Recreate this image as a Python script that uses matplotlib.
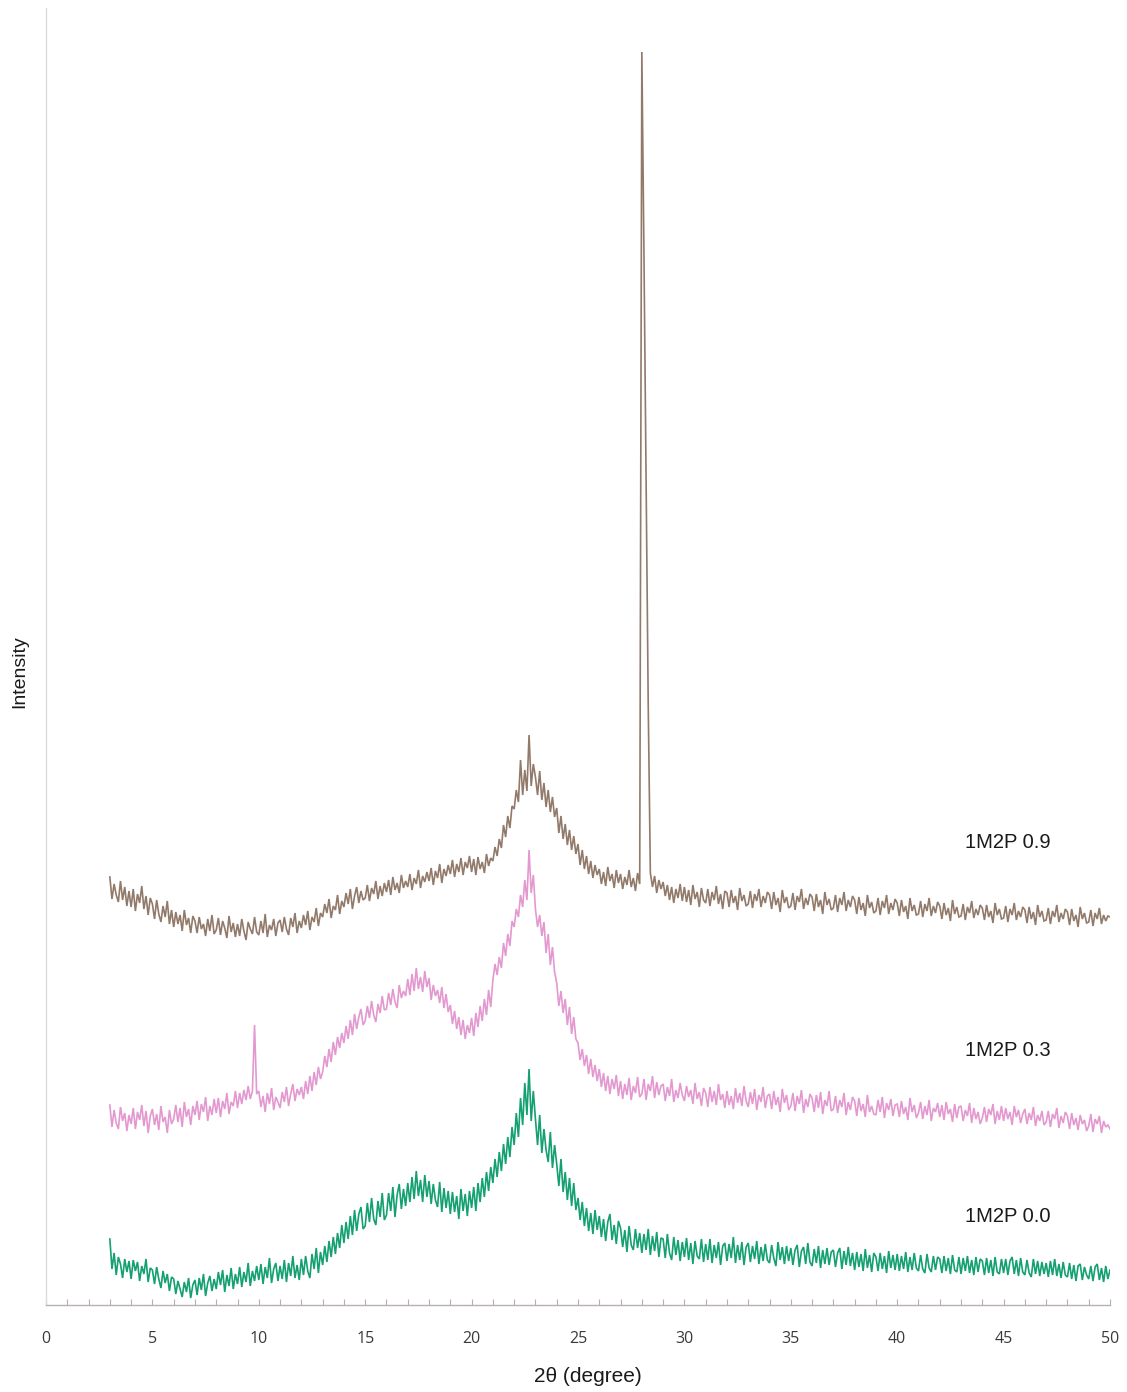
import numpy as np
import matplotlib
matplotlib.use("Agg")
import matplotlib.pyplot as plt

# 2-theta grid: 3.0 .. 50.0 in 0.1 degree steps (471 points)
two_theta = np.round(np.linspace(3.0, 50.0, 471), 2)

# 1M2P 0.0 (green), one row per degree (x = d.0 ... d.9)
green = [
    66, 36, 52, 30, 48, 41, 27, 46, 33, 44,
    26, 45, 34, 43, 24, 39, 31, 46, 23, 37,
    35, 21, 38, 26, 17, 34, 22, 31, 14, 28,
    26, 11, 24, 16, 8, 23, 13, 27, 7, 20,
    25, 10, 27, 15, 31, 9, 22, 29, 14, 26,
    16, 33, 20, 35, 13, 30, 19, 37, 16, 31,
    21, 38, 18, 33, 23, 42, 19, 34, 24, 39,
    25, 41, 21, 38, 27, 47, 22, 36, 42, 24,
    39, 26, 45, 23, 42, 29, 49, 27, 40, 25,
    46, 30, 49, 34, 27, 51, 36, 57, 32, 53,
    40, 59, 43, 64, 48, 68, 51, 72, 57, 80,
    62, 83, 66, 89, 70, 95, 74, 91, 98, 76,
    79, 102, 83, 107, 86, 80, 104, 88, 112, 85,
    90, 112, 94, 118, 88, 110, 121, 96, 116, 99,
    122, 103, 128, 106, 134, 109, 125, 103, 130, 108,
    124, 101, 121, 105, 98, 123, 93, 117, 97, 114,
    91, 113, 93, 109, 86, 116, 94, 111, 89, 114,
    97, 118, 94, 122, 103, 127, 108, 133, 114, 138,
    122, 146, 128, 153, 134, 161, 141, 168, 148, 178,
    160, 192, 168, 207, 180, 222, 190, 236, 184, 214,
    186, 160, 190, 152, 176, 155, 143, 173, 137, 160,
    141, 119, 146, 113, 133, 105, 127, 99, 122, 95,
    107, 85, 103, 79, 97, 74, 92, 71, 95, 75,
    89, 68, 86, 64, 83, 91, 65, 80, 61, 84,
    77, 58, 75, 53, 79, 60, 55, 76, 57, 72,
    52, 71, 55, 76, 50, 69, 54, 73, 48, 67,
    66, 47, 71, 52, 45, 68, 50, 65, 44, 63,
    48, 67, 45, 62, 41, 64, 49, 46, 66, 43,
    61, 45, 66, 42, 60, 47, 63, 40, 59, 62,
    44, 61, 47, 68, 42, 60, 45, 63, 40, 58,
    62, 43, 59, 46, 64, 41, 58, 44, 61, 45,
    42, 60, 47, 39, 63, 45, 58, 41, 59, 44,
    57, 40, 55, 60, 38, 54, 58, 41, 62, 43,
    39, 56, 42, 59, 37, 55, 41, 57, 40, 53,
    55, 38, 52, 57, 36, 54, 40, 58, 39, 52,
    35, 53, 38, 51, 34, 56, 37, 50, 33, 52,
    48, 34, 52, 36, 49, 32, 54, 37, 50, 35,
    51, 34, 49, 36, 53, 33, 48, 35, 52, 37,
    34, 50, 36, 32, 51, 37, 33, 49, 35, 48,
    46, 32, 49, 34, 47, 31, 50, 35, 33, 48,
    31, 47, 34, 49, 32, 45, 30, 48, 33, 46,
    44, 30, 47, 32, 45, 29, 48, 33, 31, 46,
    32, 46, 30, 44, 48, 31, 45, 29, 47, 33,
    30, 45, 32, 28, 46, 31, 44, 29, 43, 31,
    42, 28, 44, 30, 46, 29, 41, 27, 43, 30,
    28, 42, 26, 40, 24, 39, 41, 25, 38, 30,
    26, 39, 24, 38, 41, 25, 37, 23, 39, 26,
    35,
]

# 1M2P 0.3 (pink)
pink = [
    200, 178, 195, 182, 176, 198, 184, 192, 174, 190,
    181, 197, 176, 193, 185, 200, 179, 194, 172, 189,
    196, 180, 191, 175, 199, 183, 188, 172, 195, 181,
    186, 200, 183, 197, 178, 203, 188, 196, 180, 199,
    190, 204, 185, 201, 193, 208, 184, 199, 190, 206,
    192, 207, 188, 204, 196, 212, 191, 203, 199, 214,
    197, 212, 201, 215, 205, 219, 206, 214, 280, 211,
    214, 198, 209, 193, 212, 201, 217, 195, 208, 203,
    197, 213, 203, 218, 199, 211, 221, 204, 216, 210,
    218, 206, 224, 211, 229, 214, 233, 220, 238, 226,
    233, 249, 238, 256, 243, 263, 250, 268, 257, 272,
    262, 279, 266, 285, 270, 291, 276, 288, 296, 280,
    284, 299, 287, 304, 290, 283, 301, 292, 309, 295,
    296, 312, 300, 316, 303, 297, 320, 307, 314, 309,
    326, 310, 331, 314, 337, 316, 328, 313, 334, 318,
    327, 305, 320, 309, 315, 302, 318, 297, 311, 293,
    300, 281, 294, 276, 288, 270, 285, 266, 280, 272,
    287, 269, 292, 278, 299, 284, 306, 290, 315, 298,
    325, 341, 330, 348, 337, 362, 349, 371, 359, 384,
    378, 396, 388, 410, 398, 425, 405, 455, 412, 430,
    396, 378, 390, 369, 383, 352, 371, 340, 358, 333,
    322, 299, 314, 292, 306, 280, 298, 271, 288, 266,
    262, 245, 256, 239, 250, 231, 246, 228, 240, 224,
    236, 218, 232, 214, 229, 211, 226, 216, 230, 209,
    224, 206, 221, 210, 227, 205, 219, 212, 228, 208,
    211, 226, 205, 221, 214, 229, 207, 223, 210, 219,
    221, 204, 218, 209, 226, 203, 215, 207, 222, 210,
    204, 219, 208, 215, 201, 222, 206, 213, 199, 217,
    212, 198, 218, 203, 214, 200, 221, 205, 211, 197,
    214, 200, 209, 196, 217, 202, 212, 199, 219, 204,
    198, 213, 201, 216, 195, 210, 203, 218, 197, 209,
    211, 196, 214, 200, 208, 193, 216, 202, 210, 195,
    199, 212, 194, 209, 201, 215, 192, 206, 198, 211,
    207, 193, 210, 197, 213, 191, 205, 199, 214, 194,
    196, 209, 192, 205, 198, 212, 190, 203, 195, 208,
    204, 189, 207, 194, 201, 188, 210, 193, 199, 191,
    190, 205, 193, 208, 187, 202, 195, 206, 189, 200,
    201, 188, 204, 191, 198, 185, 207, 193, 200, 187,
    192, 203, 186, 199, 190, 205, 184, 197, 193, 202,
    188, 200, 185, 203, 191, 196, 183, 201, 187, 198,
    199, 184, 195, 189, 202, 182, 197, 186, 193, 181,
    187, 198, 183, 196, 190, 201, 181, 194, 185, 199,
    184, 197, 186, 193, 180, 199, 188, 195, 182, 191,
    196, 181, 192, 185, 198, 179, 190, 184, 194, 180,
    183, 194, 178, 191, 186, 197, 177, 189, 182, 193,
    189, 176, 192, 180, 187, 175, 190, 181, 185, 174,
    179, 191, 173, 186, 181, 189, 172, 184, 178, 180,
    176,
]

# 1M2P 0.9 (brown) with the sharp reflection at ~28 degrees
brown = [
    428, 406, 421, 410, 403, 424, 405, 418, 399, 414,
    398, 416, 394, 411, 402, 419, 396, 409, 390, 407,
    401, 386, 405, 391, 383, 399, 388, 404, 381, 395,
    378, 393, 381, 390, 374, 395, 380, 387, 372, 389,
    384, 372, 388, 376, 381, 369, 386, 374, 390, 371,
    375, 387, 370, 384, 377, 367, 389, 373, 382, 368,
    381, 369, 386, 374, 365, 383, 376, 371, 388, 373,
    370, 384, 372, 391, 368, 380, 375, 386, 369, 382,
    385, 373, 388, 376, 370, 387, 378, 392, 372, 384,
    377, 390, 380, 394, 375, 388, 383, 397, 379, 392,
    388, 401, 392, 406, 387, 399, 395, 410, 391, 404,
    398, 412, 401, 416, 396, 409, 418, 402, 414, 405,
    407, 420, 404, 417, 411, 424, 406, 419, 409, 422,
    413, 425, 410, 428, 415, 422, 412, 430, 417, 424,
    418, 431, 415, 427, 421, 435, 417, 429, 423, 433,
    424, 437, 420, 434, 427, 441, 422, 436, 429, 440,
    431, 445, 428, 441, 433, 447, 430, 443, 437, 449,
    433, 446, 430, 448, 436, 443, 432, 451, 439, 447,
    444, 458, 449, 466, 457, 480, 468, 489, 477, 499,
    496, 515, 503, 545, 510, 535, 514, 570, 519, 541,
    528, 510, 534, 505, 522, 498, 515, 493, 508, 488,
    497, 472, 489, 466, 481, 460, 475, 455, 469, 451,
    461, 440, 455, 436, 449, 431, 444, 427, 440, 430,
    436, 421, 433, 419, 438, 424, 431, 417, 435, 422,
    431, 416, 428, 420, 435, 418, 427, 414, 432, 421,
    1253, 1050, 820, 600, 432, 418, 429, 412, 425, 416,
    423, 409, 420, 405, 418, 402, 416, 407, 421, 404,
    418, 403, 415, 400, 420, 406, 413, 398, 417, 405,
    402, 416, 399, 413, 405, 419, 401, 411, 396, 414,
    412, 398, 415, 402, 409, 395, 417, 404, 410, 399,
    401, 414, 397, 411, 404, 416, 398, 409, 402, 413,
    410, 396, 413, 400, 407, 393, 415, 402, 408, 397,
    399, 412, 395, 409, 403, 416, 396, 407, 400, 411,
    408, 394, 411, 398, 405, 391, 413, 400, 406, 395,
    397, 410, 393, 407, 400, 413, 394, 405, 398, 409,
    405, 391, 408, 395, 402, 389, 410, 397, 403, 392,
    394, 407, 390, 404, 397, 410, 391, 402, 395, 406,
    402, 389, 405, 393, 399, 386, 407, 394, 400, 390,
    391, 404, 388, 401, 394, 407, 389, 399, 392, 403,
    399, 386, 402, 390, 397, 384, 405, 391, 398, 388,
    389, 401, 385, 398, 392, 404, 387, 396, 390, 400,
    397, 385, 400, 388, 394, 382, 402, 390, 396, 386,
    387, 399, 383, 396, 390, 402, 385, 394, 388, 398,
    395, 382, 398, 386, 393, 380, 400, 388, 394, 384,
    385, 397, 381, 394, 388, 400, 383, 392, 386, 396,
    393, 380, 396, 384, 390, 378, 398, 386, 392, 382,
    383, 395, 379, 392, 386, 397, 381, 390, 384, 389,
    388,
]

series_names = ["1M2P 0.9", "1M2P 0.3", "1M2P 0.0"]
label_x = [45.2, 45.2, 45.2]
label_y = [463, 255, 89]
colors = ["#927a6b", "#e399d0", "#14a070"]
x_ticks = [0, 5, 10, 15, 20, 25, 30, 35, 40, 45, 50]

W, H = 1127, 1392
fig = plt.figure(figsize=(W / 100, H / 100), dpi=100)
ax = fig.add_axes([46 / W, 1 - 1305 / H, (1110 - 46) / W, (1305 - 8) / H])

for vals, col in zip([brown, pink, green], colors):
    ax.plot(two_theta, vals, color=col, lw=1.2, solid_joinstyle="miter")

for name, lx, ly in zip(series_names, label_x, label_y):
    ax.text(lx, ly, name, ha="center", va="center", fontsize=14.5,
            family="Liberation Sans", color="#1a1a1a")

ax.set_xlim(0, 50)
ax.set_ylim(0, 1297)
ax.set_yticks([])
ax.set_xticks(x_ticks)
ax.set_xticklabels([str(t) for t in x_ticks], family="Open Sans",
                   fontsize=11.5, color="#3a3a3a")
ax.set_xticks(np.arange(0, 51, 1), minor=True)
ax.tick_params(axis="x", which="both", direction="in", length=4,
               width=0.8, color="#b8b0b0", pad=19)
for s in ["top", "right"]:
    ax.spines[s].set_visible(False)
ax.spines["left"].set_color("#dcdcdc")
ax.spines["left"].set_linewidth(1.0)
ax.spines["bottom"].set_color("#b8b0b0")
ax.spines["bottom"].set_linewidth(1.0)

fig.text(588 / W, 1 - 1377 / H, "2\u03b8 (degree)", ha="center", va="center",
         fontsize=15, family="Liberation Sans", color="#1a1a1a")
fig.text(20 / W, 1 - 672 / H, "Intensity", ha="center", va="center",
         rotation=90, fontsize=14, family="Liberation Sans", color="#1a1a1a")

fig.save_fig = None
fig.savefig("out.png", dpi=100)
